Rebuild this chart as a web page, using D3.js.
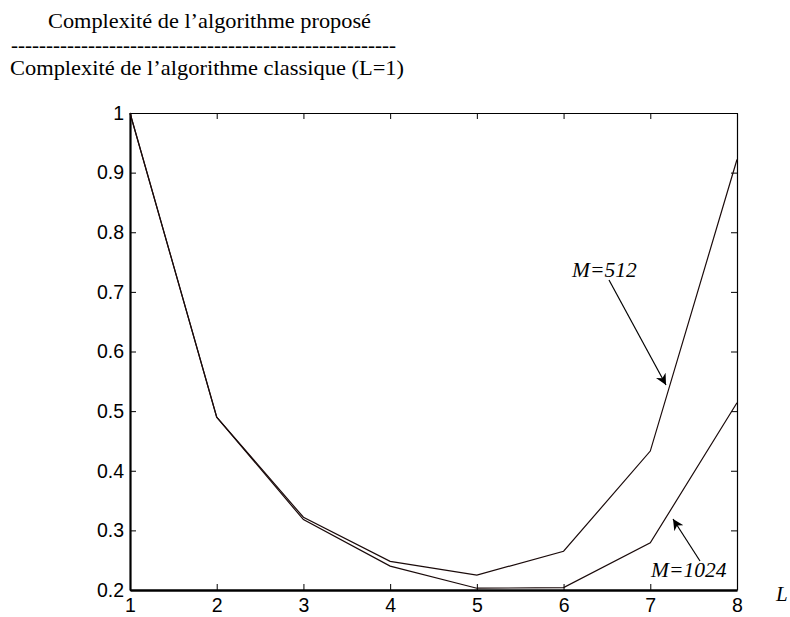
<!DOCTYPE html>
<html>
<head>
<meta charset="utf-8">
<script src="https://cdn.jsdelivr.net/npm/d3@7"></script>
<style>
  body { margin: 0; background: #fff; }
  svg { display: block; }
</style>
</head>
<body>
<svg id="chart" width="790" height="617"></svg>
<script>
// Filter length L on the x axis
const Lvalues = [1, 2, 3, 4, 5, 6, 7, 8];
// Complexity ratio (proposed / classic with L=1)
const ratioM512 = [1, 0.49, 0.322, 0.248, 0.225, 0.265, 0.433, 0.922];
const ratioM1024 = [1, 0.49, 0.318, 0.240, 0.203, 0.204, 0.279, 0.514];
const yTicks = [0.2, 0.3, 0.4, 0.5, 0.6, 0.7, 0.8, 0.9, 1];
const xTicks = [1, 2, 3, 4, 5, 6, 7, 8];

const svg = d3.select("#chart");
const plotLeft = 130, plotRight = 737, plotTop = 113, plotBottom = 590;

const x = d3.scaleLinear().domain([1, 8]).range([plotLeft, plotRight]);
const y = d3.scaleLinear().domain([0.2, 1]).range([plotBottom, plotTop]);

// Y label written as a fraction
const serif = "'Liberation Serif', 'Times New Roman', serif";
svg.append("text").attr("x", 48).attr("y", 28)
  .attr("font-family", serif).attr("font-size", 21)
  .attr("textLength", 323).attr("lengthAdjust", "spacingAndGlyphs")
  .text("Complexité de l’algorithme proposé");
svg.append("text").attr("x", 11).attr("y", 52)
  .attr("font-family", serif).attr("font-size", 21)
  .attr("textLength", 385).attr("lengthAdjust", "spacingAndGlyphs")
  .text("-".repeat(55));
svg.append("text").attr("x", 10).attr("y", 75)
  .attr("font-family", serif).attr("font-size", 21)
  .attr("textLength", 394).attr("lengthAdjust", "spacingAndGlyphs")
  .text("Complexité de l’algorithme classique (L=1)");

// Axes box
const g = svg.append("g");

const yAxisL = d3.axisLeft(y).tickValues(yTicks).tickSizeInner(-6).tickSizeOuter(0)
  .tickPadding(6).tickFormat(d => d === 1 ? "1" : d3.format(".1f")(d));
const yAxisR = d3.axisRight(y).tickValues(yTicks).tickSizeInner(-6).tickSizeOuter(0).tickFormat("");
const xAxisB = d3.axisBottom(x).tickValues(xTicks).tickSizeInner(-6).tickSizeOuter(0)
  .tickPadding(8).tickFormat(d3.format("d"));
const xAxisT = d3.axisTop(x).tickValues(xTicks).tickSizeInner(-6).tickSizeOuter(0).tickFormat("");

function style(sel, w) {
  sel.select(".domain").attr("stroke", "#000").attr("stroke-width", w);
  sel.selectAll(".tick line").attr("stroke", "#000").attr("stroke-width", 1);
  sel.selectAll(".tick text").attr("fill", "#000")
    .attr("font-family", "'Liberation Sans', Arial, sans-serif").attr("font-size", 19.5);
}
g.append("g").attr("transform", `translate(${plotRight},0)`).call(yAxisR).call(style, 1.2);
g.append("g").attr("transform", `translate(0,${plotTop})`).call(xAxisT).call(style, 1.2);
g.append("g").attr("transform", `translate(${plotLeft},0)`).call(yAxisL).call(style, 2.2);
g.append("g").attr("transform", `translate(0,${plotBottom})`).call(xAxisB).call(style, 2.6);

// Curves
const line = d3.line().x((d, i) => x(Lvalues[i])).y(d => y(d));
[ratioM512, ratioM1024].forEach(s => {
  svg.append("path").datum(s).attr("d", line)
    .attr("fill", "none").attr("stroke", "#1a0a0a").attr("stroke-width", 1.2);
});

// Annotations with arrows
const defs = svg.append("defs");
defs.append("marker").attr("id", "arr").attr("viewBox", "0 0 10 10")
  .attr("refX", 10).attr("refY", 5).attr("markerWidth", 11).attr("markerHeight", 11)
  .attr("markerUnits", "userSpaceOnUse").attr("orient", "auto")
  .append("path").attr("d", "M0,0 L10,5 L0,10 L3,5 Z").attr("fill", "#000");

svg.append("text").attr("x", 572).attr("y", 277)
  .attr("font-family", serif).attr("font-style", "italic").attr("font-size", 21.5)
  .text("M=512");
svg.append("line").attr("x1", 609).attr("y1", 280).attr("x2", 666).attr("y2", 385)
  .attr("stroke", "#000").attr("stroke-width", 1.2).attr("marker-end", "url(#arr)");

svg.append("text").attr("x", 651).attr("y", 577)
  .attr("font-family", serif).attr("font-style", "italic").attr("font-size", 21.5)
  .text("M=1024");
svg.append("line").attr("x1", 700).attr("y1", 561).attr("x2", 673).attr("y2", 519)
  .attr("stroke", "#000").attr("stroke-width", 1.2).attr("marker-end", "url(#arr)");

svg.append("text").attr("x", 776).attr("y", 601)
  .attr("font-family", serif).attr("font-style", "italic").attr("font-size", 21)
  .text("L");
</script>
</body>
</html>
